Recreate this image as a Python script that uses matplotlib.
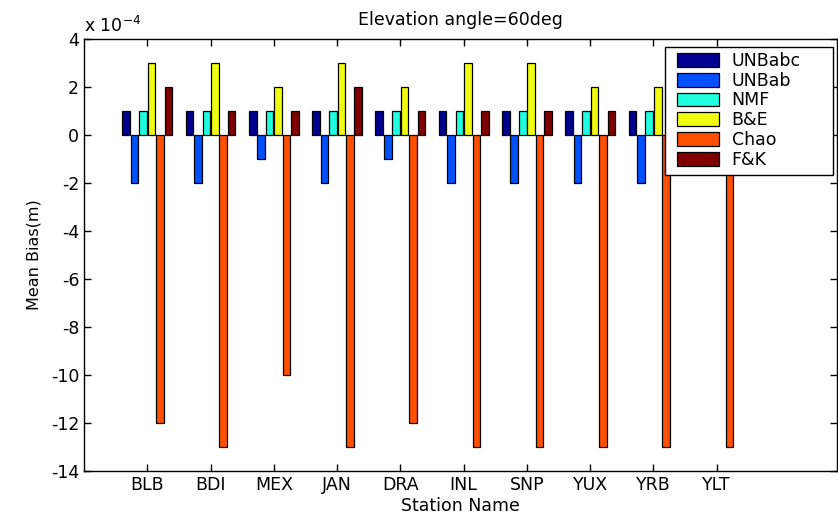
import matplotlib
matplotlib.use("Agg")
import matplotlib.pyplot as plt
from matplotlib.patches import Rectangle
import numpy as np

plt.rcParams['font.family'] = ['DejaVu Sans']
plt.rcParams['mathtext.default'] = 'regular'
plt.rcParams['axes.unicode_minus'] = False

stations = ["BLB", "BDI", "MEX", "JAN", "DRA", "INL", "SNP", "YUX", "YRB", "YLT"]
series_names = ["UNBabc", "UNBab", "NMF", "B&E", "Chao", "F&K"]
unbabc = [1, 1, 1, 1, 1, 1, 1, 1, 1, 1]
unbab = [-2, -2, -1, -2, -1, -2, -2, -2, -2, -1]
nmf = [1, 1, 1, 1, 1, 1, 1, 1, 1, 1]
be = [3, 3, 2, 3, 2, 3, 3, 2, 2, 2]
chao = [-12, -13, -10, -13, -12, -13, -13, -13, -13, -13]
fk = [2, 1, 1, 2, 1, 1, 1, 1, 1, 1]
colors = ["#000090", "#0050FF", "#20FFE0", "#F0FF10", "#FF5000", "#800000"]

series = [unbabc, unbab, nmf, be, chao, fk]

W, H = 838, 516
AX_L, AX_R, AX_T, AX_B = 84, 837, 39, 471
fig = plt.figure(figsize=(W / 100, H / 100), dpi=100)
ax = fig.add_axes([AX_L / W, (H - AX_B) / H, (AX_R - AX_L) / W, (AX_B - AX_T) / H])

def ax_x(px):
    return (px - AX_L) / (AX_R - AX_L)

def ax_y(py):
    return (AX_B - py) / (AX_B - AX_T)

x = np.arange(1, len(stations) + 1)
slot = 0.8 / len(series)
for i, (vals, name, c) in enumerate(zip(series, series_names, colors)):
    ax.bar(x + (i - 2.5) * slot, vals, width=slot * 0.9, color=c,
           edgecolor="black", linewidth=0.9, label=name, zorder=2)

ax.set_xlim(0, 11.9)
ax.set_ylim(-14, 4)
ax.set_yticks(np.arange(-14, 5, 2))
ax.set_xticks(x)
ax.set_xticklabels(stations)
ax.tick_params(direction="in", top=True, right=True, labelsize=12.5, length=5, width=1)
for s in ax.spines.values():
    s.set_linewidth(1)

ax.set_title("Elevation angle=60deg", fontsize=12.5, pad=10)
ax.set_xlabel("Station Name", fontsize=12.5, labelpad=2)
ax.set_ylabel("Mean Bias(m)", fontsize=11.5, labelpad=7)
fig.text(AX_L / W, 1 - 32 / H, r"x 10$^{-4}$", fontsize=12.5, ha="left", va="baseline")

# legend box (white background covering the bars beneath)
box = Rectangle((ax_x(665), ax_y(175)), ax_x(833) - ax_x(665), ax_y(47) - ax_y(175),
                transform=ax.transAxes, facecolor="white", edgecolor="black",
                linewidth=1, zorder=4, clip_on=False)
ax.add_patch(box)

leg = ax.legend(loc="upper left", bbox_to_anchor=(ax_x(677), ax_y(52)), fontsize=12.5,
                frameon=False, handlelength=2.4, handleheight=0.85, labelspacing=0.1,
                borderpad=0, handletextpad=0.75, borderaxespad=0)
leg.set_zorder(5)

fig.savefig("out.png", dpi=100)
